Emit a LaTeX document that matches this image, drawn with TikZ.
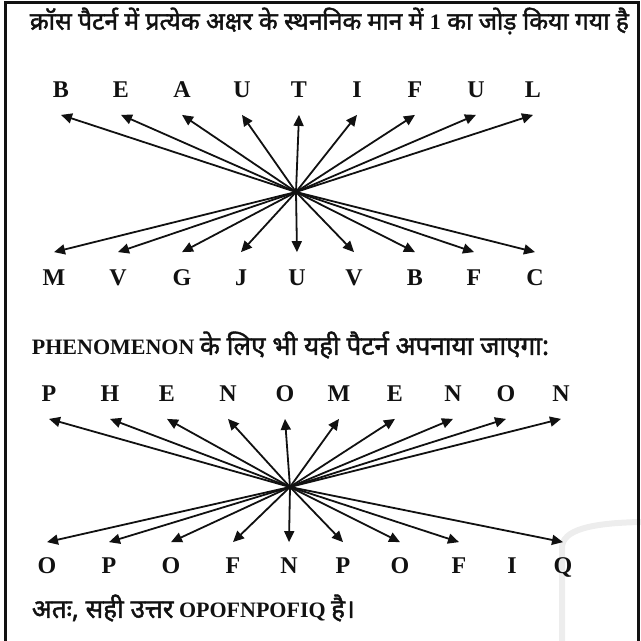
\documentclass[tikz,border=0pt]{standalone}
\usepackage{fontspec}
\setmainfont{Liberation Serif}
\newfontfamily\hindifont[Script=Devanagari, Scale=1.24, FakeBold=1.6]{Noto Sans}
\usetikzlibrary{arrows.meta}
\definecolor{cink}{HTML}{111111}
\definecolor{cmark}{HTML}{EDEDED}
\tikzset{
  every picture/.style={line width=1.8pt},
  letter/.style={font=\bfseries\fontsize{24}{24}\selectfont, text=cink, inner sep=0pt, anchor=base},
  upper/.style={letter, text height=16pt, text depth=#1},
  upper/.default=17pt,
  lower/.style={letter, text height=#1, text depth=0pt},
  lower/.default=32pt,
  ray/.style={-{Triangle[length=11pt, width=10pt]}, draw=cink, line width=1.8pt},
  line/.style={font=\bfseries\fontsize{22}{22}\selectfont, text=cink, inner sep=0pt, anchor=west},
}

\begin{document}
\begin{tikzpicture}[x=1pt, y=-1pt]
  \useasboundingbox (0,0) rectangle (641,641);
  % faint mark and frame
  \draw[cmark, line width=6pt] (562,641) -- (562,548) .. controls (562,530) and (590,523) .. (641,522);
  \draw[cink, line width=3pt] (5,641) -- (5,2) -- (638,2) -- (638,641);

  \node[line, font=\bfseries\fontsize{19.8}{19.8}\selectfont] (title) at (29,21) {\hindifont क्रॉस पैटर्न में प्रत्येक अक्षर के स्थननिक मान में {\rmfamily\fontsize{22}{22}\selectfont 1} का जोड़ किया गया है};

  % BEAUTIFUL -> MVGJUVBFC
  \coordinate (x1) at (296,192);
  \node[upper] (u1) at (61,97) {B};
  \node[upper] (u2) at (121,97) {E};
  \node[upper] (u3) at (182,97) {A};
  \node[upper] (u4) at (242,97) {U};
  \node[upper] (u5) at (299,97) {T};
  \node[upper] (u6) at (357,97) {I};
  \node[upper] (u7) at (415,97) {F};
  \node[upper] (u8) at (476,97) {U};
  \node[upper] (u9) at (533,97) {L};
  \node[lower] (v1) at (54,285) {M};
  \node[lower] (v2) at (118,285) {V};
  \node[lower] (v3) at (182,285) {G};
  \node[lower] (v4) at (241,285) {J};
  \node[lower] (v5) at (297,285) {U};
  \node[lower] (v6) at (354,285) {V};
  \node[lower] (v7) at (415,285) {B};
  \node[lower] (v8) at (474,285) {F};
  \node[lower] (v9) at (535,285) {C};
  \draw[ray] (x1) -- (u1.south); \draw[ray] (x1) -- (u2.south); \draw[ray] (x1) -- (u3.south);
  \draw[ray] (x1) -- (u4.south); \draw[ray] (x1) -- (u5.south); \draw[ray] (x1) -- (u6.south);
  \draw[ray] (x1) -- (u7.south); \draw[ray] (x1) -- (u8.south); \draw[ray] (x1) -- (u9.south);
  \draw[ray] (x1) -- (v1.north); \draw[ray] (x1) -- (v2.north); \draw[ray] (x1) -- (v3.north);
  \draw[ray] (x1) -- (v4.north); \draw[ray] (x1) -- (v5.north); \draw[ray] (x1) -- (v6.north);
  \draw[ray] (x1) -- (v7.north); \draw[ray] (x1) -- (v8.north); \draw[ray] (x1) -- (v9.north);

  \node[line] (heading) at (31,345) {PHENOMENON {\hindifont\fontsize{21}{21}\selectfont के लिए भी यही पैटर्न अपनाया जाएगा:}};

  % PHENOMENON -> OPOFNPOFIQ
  \coordinate (x2) at (290,487);
  \node[upper] (p1) at (49,401) {P};
  \node[upper] (p2) at (110,401) {H};
  \node[upper] (p3) at (167,401) {E};
  \node[upper] (p4) at (228,401) {N};
  \node[upper] (p5) at (285,401) {O};
  \node[upper] (p6) at (339,401) {M};
  \node[upper] (p7) at (395,401) {E};
  \node[upper] (p8) at (453,401) {N};
  \node[upper] (p9) at (506,401) {O};
  \node[upper] (p10) at (561,401) {N};
  \node[lower=30pt] (q1) at (47,573) {O};
  \node[lower=30pt] (q2) at (109,573) {P};
  \node[lower=30pt] (q3) at (171,573) {O};
  \node[lower=30pt] (q4) at (233,573) {F};
  \node[lower=30pt] (q5) at (289,573) {N};
  \node[lower=30pt] (q6) at (343,573) {P};
  \node[lower=30pt] (q7) at (400,573) {O};
  \node[lower=30pt] (q8) at (459,573) {F};
  \node[lower=30pt] (q9) at (512,573) {I};
  \node[lower=30pt] (q10) at (563,573) {Q};
  \draw[ray] (x2) -- (p1.south); \draw[ray] (x2) -- (p2.south); \draw[ray] (x2) -- (p3.south);
  \draw[ray] (x2) -- (p4.south); \draw[ray] (x2) -- (p5.south); \draw[ray] (x2) -- (p6.south);
  \draw[ray] (x2) -- (p7.south); \draw[ray] (x2) -- (p8.south); \draw[ray] (x2) -- (p9.south);
  \draw[ray] (x2) -- (p10.south);
  \draw[ray] (x2) -- (q1.north); \draw[ray] (x2) -- (q2.north); \draw[ray] (x2) -- (q3.north);
  \draw[ray] (x2) -- (q4.north); \draw[ray] (x2) -- (q5.north); \draw[ray] (x2) -- (q6.north);
  \draw[ray] (x2) -- (q7.north); \draw[ray] (x2) -- (q8.north); \draw[ray] (x2) -- (q10.north);

  \node[line] (answer) at (31,608) {{\hindifont\fontsize{21}{21}\selectfont अतः, सही उत्तर} OPOFNPOFIQ {\hindifont\fontsize{21}{21}\selectfont है।}};
\end{tikzpicture}
\end{document}
